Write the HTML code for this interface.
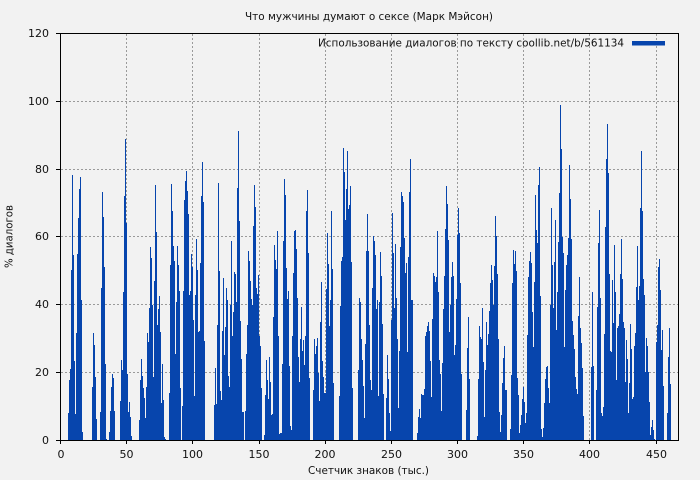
<!DOCTYPE html>
<html><head><meta charset="utf-8"><style>
html,body{margin:0;padding:0;background:#f2f2f2;}
svg{display:block;}
text{font-family:"DejaVu Sans","Liberation Sans",sans-serif;font-size:11px;fill:#111;}
</style></head><body>
<svg width="700" height="480" viewBox="0 0 700 480" xmlns="http://www.w3.org/2000/svg">
<rect x="0" y="0" width="700" height="480" fill="#f2f2f2"/>
<g stroke="#9a9a9a" stroke-width="1" stroke-dasharray="2,2" fill="none">
<line x1="61" y1="101.5" x2="678" y2="101.5"/>
<line x1="61" y1="169.5" x2="678" y2="169.5"/>
<line x1="61" y1="236.5" x2="678" y2="236.5"/>
<line x1="61" y1="304.5" x2="678" y2="304.5"/>
<line x1="61" y1="372.5" x2="678" y2="372.5"/>
<line x1="126.5" y1="34" x2="126.5" y2="440"/>
<line x1="192.5" y1="34" x2="192.5" y2="440"/>
<line x1="259.5" y1="34" x2="259.5" y2="440"/>
<line x1="325.5" y1="34" x2="325.5" y2="440"/>
<line x1="391.5" y1="34" x2="391.5" y2="440"/>
<line x1="457.5" y1="34" x2="457.5" y2="440"/>
<line x1="523.5" y1="34" x2="523.5" y2="440"/>
<line x1="589.5" y1="34" x2="589.5" y2="440"/>
<line x1="656.5" y1="34" x2="656.5" y2="440"/>
</g>
<path fill="#0745ad" d="M61 440H68V413H69V380H70V369H71V270H72V175H73V255H74V361H75V414H76V333H77V254H78V218H79V189H80V177H81V300H82V432H83V440H92V387H93V333H94V345H95V377H96V419H97V440H100V412H101V288H102V192H103V217H104V267H105V364H106V439H107V440H109V432H110V411H111V387H112V374H113V378H114V411H115V440H120V401H121V360H122V370H123V292H124V196H125V139H126V223H127V374H128V412H129V402H130V417H131V436H132V440H139V420H140V380H141V359H142V376H143V388H144V398H145V418H146V387H147V333H148V342H149V308H150V247H151V258H152V305H153V377H154V281H155V185H156V232H157V325H158V309H159V296H160V332H161V403H162V364H163V400H164V437H165V439H166V440H169V393H170V265H171V184H172V211H173V246H174V261H175V354H176V302H177V246H178V265H179V291H180V388H181V440H182V406H183V291H184V200H185V181H186V171H187V191H188V214H189V295H190V291H191V254H192V267H193V320H194V396H195V295H196V239H197V270H198V332H199V331H200V263H201V196H202V162H203V202H204V341H205V440H214V405H215V368H216V404H217V325H218V183H219V271H220V391H221V400H222V331H223V278H224V355H225V327H226V288H227V300H228V376H229V387H230V305H231V241H232V336H233V312H234V272H235V274H236V302H237V188H238V131H239V221H240V321H241V359H242V412H244V440H245V411H246V354H247V325H248V251H249V261H250V281H251V299H252V305H253V226H254V185H255V207H256V288H257V294H258V275H259V336H260V346H261V388H262V440H264V435H265V395H266V360H267V380H268V399H269V357H270V382H271V415H272V414H273V317H274V245H275V260H276V269H277V231H278V336H279V434H280V433H282V364H283V241H284V179H285V195H286V268H287V299H288V291H289V366H290V426H291V430H292V336H293V273H294V231H295V230H296V249H297V298H298V357H299V382H300V339H301V307H302V351H303V340H304V365H305V336H306V211H307V190H308V253H309V378H310V440H313V390H314V339H315V354H316V346H317V338H318V373H319V401H320V322H321V282H322V361H323V377H324V393H326V289H327V233H328V264H329V326H330V300H331V211H332V269H333V383H334V440H339V396H340V306H341V261H342V257H343V148H344V172H345V220H346V189H347V151H348V209H349V205H350V186H351V262H352V388H353V440H358V370H359V298H360V302H361V339H362V360H363V386H364V418H365V344H366V251H367V214H368V251H369V325H370V380H371V390H372V288H373V236H374V241H375V255H376V309H377V300H378V396H379V302H380V252H381V276H382V324H383V394H384V440H386V398H387V355H388V379H389V413H390V431H391V320H392V213H393V253H394V308H395V244H396V298H397V339H398V408H399V351H400V247H401V192H402V196H403V202H404V238H405V273H406V263H407V352H408V257H409V192H410V159H411V300H413V440H417V433H418V417H419V409H420V418H421V394H422V395H424V389H425V336H426V332H427V326H428V322H429V331H430V361H431V397H432V319H433V273H434V276H435V282H436V277H437V231H438V292H439V360H440V374H441V411H442V363H443V309H444V276H445V229H446V186H447V204H448V240H449V332H450V305H451V277H452V262H453V276H454V355H455V345H456V299H457V235H458V208H459V233H460V283H461V374H462V440H466V410H467V348H468V317H469V379H470V440H477V436H478V379H479V326H480V337H481V339H482V308H483V362H484V417H485V370H486V322H487V345H488V334H489V311H490V283H491V265H492V280H493V305H494V266H495V216H496V236H497V274H498V339H499V412H500V432H501V415H502V383H503V358H504V346H505V390H507V440H510V429H511V375H512V283H513V250H514V264H515V251H516V271H517V378H518V395H519V433H520V425H521V415H522V399H523V387H524V402H525V423H526V413H527V335H528V277H529V261H530V252H531V263H532V312H533V347H534V282H535V195H536V230H537V243H538V185H539V167H540V296H541V429H542V437H543V428H544V403H545V379H546V367H547V366H548V388H549V403H550V305H551V208H552V265H553V308H554V262H555V220H556V330H557V292H558V242H559V193H560V105H561V149H562V237H563V253H564V347H565V290H566V265H567V255H568V238H569V165H570V199H571V239H572V321H573V335H574V349H575V377H576V389H577V394H578V316H579V277H580V328H581V343H582V368H583V416H584V440H591V367H592V292H593V366H594V440H596V390H597V307H598V243H599V210H600V298H601V413H602V416H603V407H604V334H605V227H606V159H607V124H608V173H609V274H610V351H611V352H612V280H613V323H614V245H615V292H616V380H617V328H618V326H619V314H620V274H621V239H622V279H623V322H624V328H625V382H626V340H627V359H628V413H629V383H630V324H631V349H632V399H633V397H634V346H635V333H636V287H637V246H638V300H639V286H640V208H641V151H642V211H643V279H644V295H645V372H646V338H647V346H648V372H649V402H650V435H651V427H652V420H653V430H654V439H655V440H656V342H657V325H658V267H659V259H660V290H661V350H662V330H663V386H664V440H667V413H668V357H669V328H670V384H671V440Z"/>
<g stroke="#000" stroke-width="1" fill="none" shape-rendering="crispEdges">
<rect x="60.5" y="33.5" width="618" height="407"/>
<line x1="56" y1="33.5" x2="60" y2="33.5"/>
<line x1="56" y1="101.5" x2="60" y2="101.5"/>
<line x1="56" y1="169.5" x2="60" y2="169.5"/>
<line x1="56" y1="236.5" x2="60" y2="236.5"/>
<line x1="56" y1="304.5" x2="60" y2="304.5"/>
<line x1="56" y1="372.5" x2="60" y2="372.5"/>
<line x1="56" y1="440.5" x2="60" y2="440.5"/>
<line x1="60.5" y1="441" x2="60.5" y2="444"/>
<line x1="126.5" y1="441" x2="126.5" y2="444"/>
<line x1="192.5" y1="441" x2="192.5" y2="444"/>
<line x1="259.5" y1="441" x2="259.5" y2="444"/>
<line x1="325.5" y1="441" x2="325.5" y2="444"/>
<line x1="391.5" y1="441" x2="391.5" y2="444"/>
<line x1="457.5" y1="441" x2="457.5" y2="444"/>
<line x1="523.5" y1="441" x2="523.5" y2="444"/>
<line x1="589.5" y1="441" x2="589.5" y2="444"/>
<line x1="656.5" y1="441" x2="656.5" y2="444"/>
</g>
<g text-anchor="end">
<text x="49" y="37">120</text>
<text x="49" y="105">100</text>
<text x="49" y="173">80</text>
<text x="49" y="240">60</text>
<text x="49" y="308">40</text>
<text x="49" y="376">20</text>
<text x="49" y="444">0</text>
</g>
<g text-anchor="middle">
<text x="61" y="458">0</text>
<text x="126.5" y="458">50</text>
<text x="192.5" y="458">100</text>
<text x="259" y="458">150</text>
<text x="325" y="458">200</text>
<text x="391.5" y="458">250</text>
<text x="457.5" y="458">300</text>
<text x="523.5" y="458">350</text>
<text x="589.5" y="458">400</text>
<text x="656.5" y="458">450</text>
</g>
<text x="245" y="20" textLength="248" lengthAdjust="spacingAndGlyphs">Что мужчины думают о сексе (Марк Мэйсон)</text>
<text x="318" y="46.5" textLength="306" lengthAdjust="spacingAndGlyphs">Использование диалогов по тексту coollib.net/b/561134</text>
<rect x="632" y="41" width="33" height="4.5" fill="#0745ad"/>
<text x="308" y="474" textLength="121" lengthAdjust="spacingAndGlyphs">Счетчик знаков (тыс.)</text>
<text transform="translate(12.5,268) rotate(-90)" textLength="63" lengthAdjust="spacingAndGlyphs">% диалогов</text>
</svg>
</body></html>
